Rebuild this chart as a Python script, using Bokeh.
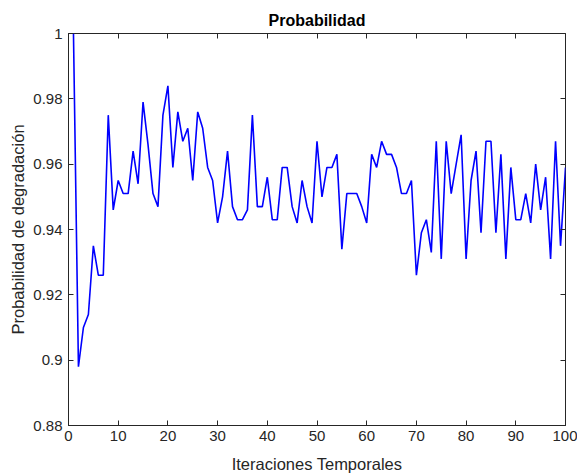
from bokeh.plotting import figure
from bokeh.models import Range1d, FixedTicker, LinearAxis
from bokeh.embed import file_html
from bokeh.resources import INLINE

iterations = list(range(1, 101))
probability = [
    1.000, 0.898, 0.910, 0.914, 0.935, 0.926, 0.926, 0.975, 0.946, 0.955,
    0.951, 0.951, 0.964, 0.954, 0.979, 0.966, 0.951, 0.947, 0.975, 0.984,
    0.959, 0.976, 0.967, 0.971, 0.955, 0.976, 0.971, 0.959, 0.955, 0.942,
    0.950, 0.964, 0.947, 0.943, 0.943, 0.946, 0.975, 0.947, 0.947, 0.956,
    0.943, 0.943, 0.959, 0.959, 0.947, 0.942, 0.955, 0.947, 0.942, 0.967,
    0.950, 0.959, 0.959, 0.963, 0.934, 0.951, 0.951, 0.951, 0.947, 0.942,
    0.963, 0.959, 0.967, 0.963, 0.963, 0.959, 0.951, 0.951, 0.955, 0.926,
    0.939, 0.943, 0.933, 0.967, 0.931, 0.967, 0.951, 0.960, 0.969, 0.931,
    0.955, 0.964, 0.939, 0.967, 0.967, 0.939, 0.963, 0.931, 0.959, 0.943,
    0.943, 0.951, 0.942, 0.960, 0.946, 0.956, 0.931, 0.967, 0.935, 0.959,
]
x_ticks = [0, 10, 20, 30, 40, 50, 60, 70, 80, 90, 100]
y_ticks = [0.88, 0.90, 0.92, 0.94, 0.96, 0.98, 1.00]
y_tick_labels = ["0.88", "0.9", "0.92", "0.94", "0.96", "0.98", "1"]

AX = "#262626"
FONT = "Liberation Sans"

p = figure(width=577, height=476, output_backend="svg", toolbar_location=None,
           x_range=Range1d(0, 100), y_range=Range1d(0.88, 1.0),
           min_border_left=68, min_border_right=12, min_border_top=33, min_border_bottom=51,
           title="Probabilidad")
p.background_fill_color = "white"
p.border_fill_color = "white"
p.outline_line_color = AX
p.outline_line_width = 1
p.grid.visible = False

p.title.align = "center"
p.title.text_font = FONT
p.title.text_font_size = "16px"
p.title.text_font_style = "bold"
p.title.text_color = "black"

p.line(iterations, probability, line_color="#0000ff", line_width=1.6)

p.xaxis.ticker = FixedTicker(ticks=x_ticks)
p.yaxis.ticker = FixedTicker(ticks=y_ticks)
p.yaxis.major_label_overrides = {t: s for t, s in zip(y_ticks, y_tick_labels)}
p.xaxis.axis_label = "Iteraciones Temporales"
p.yaxis.axis_label = "Probabilidad de degradación"
for ax in (p.xaxis, p.yaxis):
    ax.axis_line_color = AX
    ax.major_tick_line_color = AX
    ax.major_tick_in = 5
    ax.major_tick_out = 0
    ax.minor_tick_line_color = None
    ax.major_label_text_font = FONT
    ax.major_label_text_font_size = "15px"
    ax.major_label_text_color = AX
    ax.axis_label_text_font = FONT
    ax.axis_label_text_font_size = "16.5px"
    ax.axis_label_text_font_style = "normal"
    ax.axis_label_text_color = AX
p.xaxis.major_label_standoff = 5
p.yaxis.major_label_standoff = 6
p.xaxis.axis_label_standoff = 11
p.yaxis.axis_label_standoff = 3

right_ax = LinearAxis(ticker=FixedTicker(ticks=y_ticks),
                      major_label_overrides={t: "" for t in y_ticks})
top_ax = LinearAxis(ticker=FixedTicker(ticks=x_ticks),
                    major_label_overrides={t: "" for t in x_ticks})
for ax in (right_ax, top_ax):
    ax.axis_line_color = None
    ax.major_tick_line_color = AX
    ax.major_tick_in = 5
    ax.major_tick_out = 0
    ax.minor_tick_line_color = None
    ax.major_label_standoff = 0
p.add_layout(right_ax, "right")
p.add_layout(top_ax, "above")

open("out.html", "w").write(file_html(p, INLINE))
